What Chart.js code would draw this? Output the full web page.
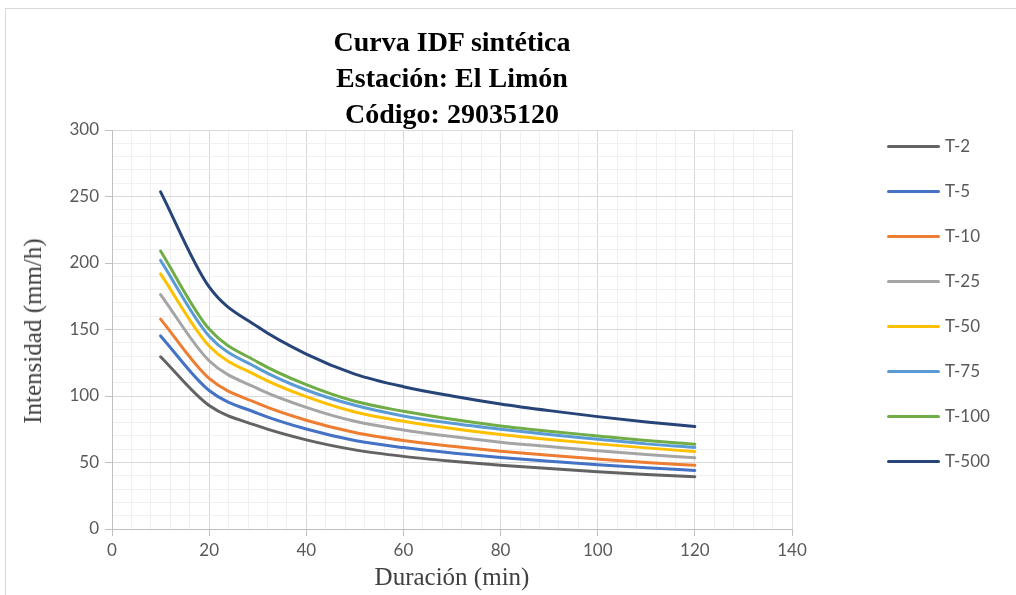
<!DOCTYPE html>
<html>
<head>
<meta charset="utf-8">
<script src="https://cdn.jsdelivr.net/npm/chart.js@4"></script>
<style>
  html, body { margin: 0; padding: 0; background: #fff; overflow: hidden; }
  #wrap { position: relative; width: 1016px; height: 595px; }
  #frame { position: absolute; left: 5px; top: 8px; width: 1020px; height: 600px; border: 1px solid #d9d9d9; box-sizing: border-box; }
  canvas { position: absolute; left: 0; top: 0; }
  .title { position: absolute; left: 252px; width: 400px; text-align: center; font-family: "Liberation Serif", "Times New Roman", serif; font-weight: bold; font-size: 28px; color: #000; line-height: 36px; top: 24px; }
  .xt { position: absolute; left: 252px; width: 400px; text-align: center; top: 563px; font-family: "Liberation Serif", serif; font-size: 25px; color: #404040; }
  .yt { position: absolute; left: 33px; top: 331px; transform: translate(-50%, -50%) rotate(-90deg); white-space: nowrap; font-family: "Liberation Serif", serif; font-size: 25px; color: #404040; }
  .leg { position: absolute; font-family: Lato, "Open Sans", sans-serif; font-size: 17px; color: #595959; }
  .leg .ln { position: absolute; left: 887px; width: 53px; height: 3px; border-radius: 2px; }
  .leg .tx { position: absolute; left: 945px; white-space: nowrap; }
</style>
</head>
<body>
<div id="wrap">
  <div id="frame"></div>
  <canvas id="c" width="1016" height="595"></canvas>
  <div class="title">Curva IDF sintética<br>Estación: El Limón<br>Código: 29035120</div>
  <div class="xt">Duración (min)</div>
  <div class="yt">Intensidad (mm/h)</div>
  <div id="legend"></div>
</div>
<script>
const durations = [10, 20, 30, 40, 50, 60, 70, 80, 90, 100, 110, 120];
const seriesNames = ["T-2", "T-5", "T-10", "T-25", "T-50", "T-75", "T-100", "T-500"];
const t2   = [129.5, 92.8, 77.5, 67.0, 59.5, 54.6, 51.0, 48.0, 45.4, 43.1, 41.0, 39.3];
const t5   = [145.2, 104.1, 87.0, 75.2, 66.6, 61.2, 57.2, 53.8, 51.0, 48.3, 46.0, 44.0];
const t10  = [157.8, 113.2, 94.5, 81.8, 72.5, 66.5, 62.2, 58.5, 55.4, 52.6, 50.0, 47.9];
const t25  = [176.3, 126.5, 105.6, 91.5, 81.0, 74.5, 69.5, 65.3, 62.0, 58.8, 56.0, 53.5];
const t50  = [191.8, 137.6, 115.0, 99.5, 88.0, 81.0, 75.5, 71.0, 67.3, 64.0, 61.0, 58.2];
const t75  = [202.0, 145.0, 121.0, 104.5, 93.0, 85.0, 79.5, 75.0, 71.0, 67.5, 64.0, 61.3];
const t100 = [209.0, 150.3, 125.5, 108.5, 96.0, 88.5, 82.5, 77.5, 73.5, 70.0, 66.5, 63.7];
const t500 = [253.5, 182.0, 152.0, 131.5, 116.5, 107.0, 100.0, 94.0, 89.0, 84.5, 80.5, 77.0];
const allSeries = [t2, t5, t10, t25, t50, t75, t100, t500];
const colors = ["#636363", "#4472C4", "#ED7D31", "#A5A5A5", "#FFC000", "#5B9BD5", "#70AD47", "#264478"];
const xTickLabels = [0, 20, 40, 60, 80, 100, 120, 140];
const yTickLabels = [0, 50, 100, 150, 200, 250, 300];

const datasets = seriesNames.map((n, i) => ({
  label: n,
  data: durations.map((d, j) => ({ x: d, y: allSeries[i][j] })),
  borderColor: colors[i],
  backgroundColor: colors[i],
  borderWidth: 3,
  pointRadius: 0,
  cubicInterpolationMode: 'monotone',
  borderCapStyle: 'round',
  fill: false
}));

const tickFont = { family: "Lato, 'Open Sans', sans-serif", size: 17 };

new Chart(document.getElementById('c'), {
  type: 'line',
  data: { datasets },
  options: {
    responsive: false,
    animation: false,
    layout: { padding: { left: 0, right: 224, top: 130, bottom: 0 } },
    plugins: { legend: { display: false }, title: { display: false }, tooltip: { enabled: false } },
    scales: {
      x: {
        type: 'linear', min: 0, max: 140,
        afterFit: s => { s.height = 66; },
        ticks: {
          stepSize: 4, autoSkip: false, maxRotation: 0, color: '#595959', font: tickFont, padding: 4,
          callback: v => xTickLabels.includes(v) ? String(v) : ''
        },
        grid: {
          color: c => (c.tick && c.tick.value % 20 === 0) ? '#d9d9d9' : '#f0f0f0',
          tickColor: c => (c.tick && c.tick.value % 20 === 0) ? '#bfbfbf' : 'rgba(0,0,0,0)',
          tickLength: 7, lineWidth: 1
        },
        border: { color: '#bfbfbf', width: 1 }
      },
      y: {
        type: 'linear', min: 0, max: 300,
        afterFit: s => { s.width = 112; },
        ticks: {
          stepSize: 10, autoSkip: false, color: '#595959', font: tickFont, padding: 6,
          callback: v => yTickLabels.includes(v) ? String(v) : ''
        },
        grid: {
          color: c => (c.tick && c.tick.value % 50 === 0) ? '#d9d9d9' : '#f0f0f0',
          tickColor: c => (c.tick && c.tick.value % 50 === 0) ? '#bfbfbf' : 'rgba(0,0,0,0)',
          tickLength: 7, lineWidth: 1
        },
        border: { color: '#bfbfbf', width: 1 }
      }
    }
  }
});

const leg = document.getElementById('legend');
seriesNames.forEach((n, i) => {
  const y = 146 + i * 45;
  const d = document.createElement('div');
  d.className = 'leg';
  d.innerHTML = '<div class="ln" style="top:' + (y - 1.5) + 'px;background:' + colors[i] + '"></div>' +
                '<div class="tx" style="top:' + (y - 11) + 'px">' + n + '</div>';
  leg.appendChild(d);
});
</script>
</body>
</html>
